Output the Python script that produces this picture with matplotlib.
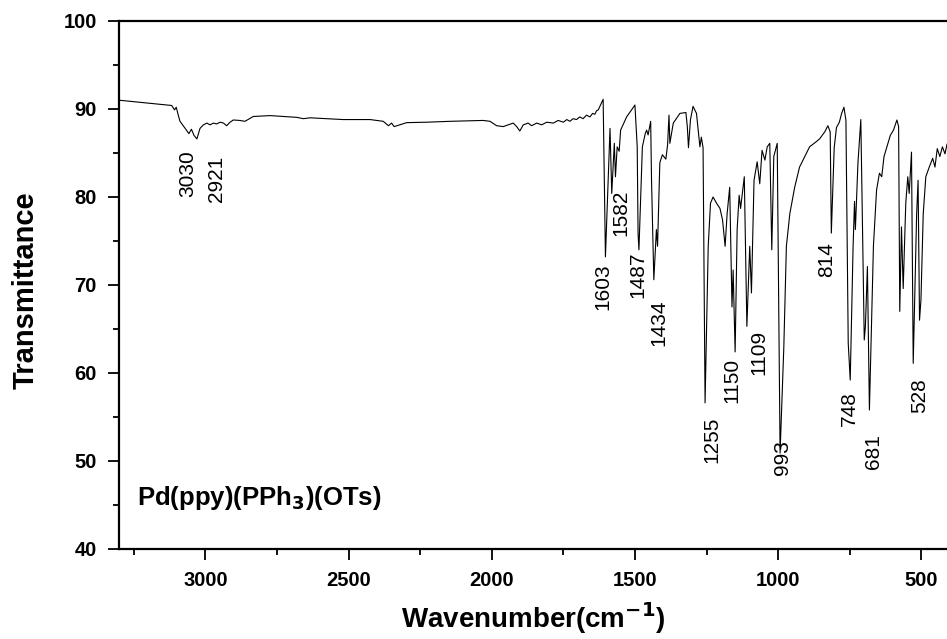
import matplotlib
matplotlib.use("Agg")
import matplotlib.pyplot as plt
from matplotlib.ticker import MultipleLocator

plt.rcParams['font.family'] = ['Liberation Sans', 'DejaVu Sans']

wavenumber = [3302, 3118, 3112, 3108, 3102, 3095, 3089, 3071, 3058, 3049, 3040, 3030, 3019, 3007, 2995,
              2984, 2972, 2961, 2949, 2937, 2926, 2914, 2903, 2880, 2862, 2833, 2774, 2681, 2658, 2635,
              2519, 2461, 2425, 2379, 2361, 2350, 2341, 2321, 2297, 2227, 2146, 2030, 2006, 1983, 1960,
              1942, 1925, 1913, 1902, 1890, 1873, 1861, 1843, 1826, 1808, 1785, 1768, 1750, 1738, 1727,
              1716, 1704, 1693, 1681, 1669, 1657, 1648, 1640, 1634, 1628, 1616, 1611, 1603, 1587, 1581,
              1572, 1568, 1562, 1555, 1550, 1529, 1500, 1492, 1489, 1486, 1480, 1474, 1464, 1459, 1454,
              1445, 1442, 1434, 1425, 1421, 1413, 1404, 1392, 1386, 1381, 1378, 1366, 1343, 1322, 1317,
              1313, 1306, 1297, 1285, 1277, 1273, 1268, 1262, 1255, 1244, 1236, 1227, 1215, 1203, 1194,
              1185, 1178, 1169, 1161, 1157, 1150, 1143, 1136, 1131, 1118, 1109, 1099, 1093, 1084, 1073,
              1064, 1056, 1046, 1038, 1029, 1022, 1015, 1003, 993, 980, 971, 959, 942, 925, 890,
              870, 855, 837, 826, 818, 814, 804, 796, 786, 778, 770, 763, 755, 748, 738,
              733, 730, 721, 711, 706, 699, 695, 688, 681, 667, 656, 646, 638, 630, 620,
              608, 597, 585, 579, 575, 569, 563, 554, 547, 542, 534, 528, 516, 511, 506,
              501, 493, 484, 472, 460, 452, 444, 435, 426, 417, 410]
transmittance = [91.0, 90.4, 90.1, 89.9, 90.2, 89.3, 88.6, 87.8, 87.2, 87.7, 87.0, 86.6, 87.8, 88.2, 88.4,
                 88.2, 88.4, 88.3, 88.5, 88.4, 88.1, 88.5, 88.75, 88.7, 88.6, 89.15, 89.25, 89.05, 88.9, 89.0,
                 88.8, 88.8, 88.8, 88.6, 88.1, 88.4, 88.0, 88.2, 88.45, 88.5, 88.6, 88.7, 88.6, 88.1, 88.0,
                 88.2, 88.4, 88.0, 87.5, 88.2, 88.4, 88.1, 88.4, 88.2, 88.5, 88.4, 88.7, 88.5, 88.8, 88.6,
                 88.9, 88.8, 89.1, 88.9, 89.3, 89.1, 89.5, 89.4, 89.8, 89.9, 90.75, 91.1, 73.2, 87.8, 80.4,
                 86.1, 82.3, 85.7, 85.2, 87.6, 89.1, 90.45, 85.7, 75.8, 74.0, 80.0, 85.7, 87.2, 87.6, 87.05,
                 88.6, 81.9, 70.6, 76.3, 74.4, 83.9, 84.8, 84.3, 85.9, 89.3, 86.1, 88.4, 89.5, 89.6, 88.0,
                 85.6, 88.8, 90.3, 89.5, 86.9, 85.7, 86.8, 85.6, 56.6, 74.4, 79.3, 80.0, 79.3, 78.7, 77.4,
                 74.4, 78.1, 81.1, 67.5, 71.7, 62.4, 76.3, 80.2, 78.7, 82.3, 65.3, 74.4, 69.1, 81.9, 84.0,
                 81.5, 85.3, 84.2, 85.7, 86.1, 74.0, 84.6, 86.1, 50.9, 62.9, 74.4, 78.1, 81.1, 83.4, 85.7,
                 86.2, 86.6, 87.4, 88.1, 87.4, 75.9, 85.6, 87.9, 88.5, 89.5, 90.2, 88.7, 63.4, 59.2, 74.4,
                 79.5, 76.3, 83.9, 88.8, 78.1, 63.75, 65.3, 72.1, 55.8, 74.4, 80.8, 82.7, 82.3, 84.6, 85.7,
                 87.0, 87.6, 88.75, 88.0, 67.0, 76.6, 69.6, 79.3, 82.3, 80.4, 85.1, 61.1, 78.1, 81.9, 66.0,
                 68.3, 78.1, 82.3, 83.4, 84.4, 83.4, 85.5, 84.6, 85.7, 84.9, 86.0]

peak_labels = ['3030', '2921', '1603', '1582', '1487', '1434', '1255', '1150', '1109',
               '993', '814', '748', '681', '528']
label_x = [3063, 2961, 1611, 1549, 1488, 1415, 1232, 1162, 1067, 984, 831, 752, 668, 507]
label_y = [85.3, 84.7, 72.5, 80.8, 73.8, 68.3, 55.0, 61.7, 64.9, 52.4, 74.9, 57.9, 53.1, 59.4]

x_ticks = [3000, 2500, 2000, 1500, 1000, 500]
y_ticks = [40, 50, 60, 70, 80, 90, 100]

fig = plt.figure(figsize=(9.47, 6.39), dpi=100)
ax = fig.add_axes([119 / 947, 1 - 549 / 639, 1 - 119 / 947, (549 - 21) / 639])

ax.plot(wavenumber, transmittance, color='black', linewidth=0.8)

ax.set_xlim(3302, 410)
ax.set_ylim(40, 100)
ax.set_xticks(x_ticks)
ax.set_yticks(y_ticks)
ax.xaxis.set_minor_locator(MultipleLocator(250))
ax.yaxis.set_minor_locator(MultipleLocator(5))
ax.tick_params(axis='both', which='major', direction='out', length=8, width=1.3,
               labelsize=14.5, pad=8)
ax.tick_params(axis='both', which='minor', direction='out', length=4.5, width=1.3)
for lab in ax.get_xticklabels() + ax.get_yticklabels():
    lab.set_fontweight('bold')

for side in ['left', 'bottom', 'top']:
    ax.spines[side].set_linewidth(1.6)
ax.spines['right'].set_visible(False)

for txt, xx, yy in zip(peak_labels, label_x, label_y):
    ax.text(xx, yy, txt, rotation=90, ha='center', va='top', fontsize=15)

ax.text(0.022, 0.097, r'Pd(ppy)(PPh$_\mathbf{3}$)(OTs)', transform=ax.transAxes,
        fontsize=18.5, fontweight='bold', ha='left', va='center')

ax.set_ylabel('Transmittance', fontsize=21, fontweight='bold')
ax.set_xlabel(r'Wavenumber(cm$^{\mathbf{-1}}$)', fontsize=20, fontweight='bold')
ax.yaxis.set_label_coords((40 - 119) / 828, 0.49)
ax.xaxis.set_label_coords((533 - 119) / 828, -(600 - 549) / 528)

fig.savefig('out.png', dpi=100)
